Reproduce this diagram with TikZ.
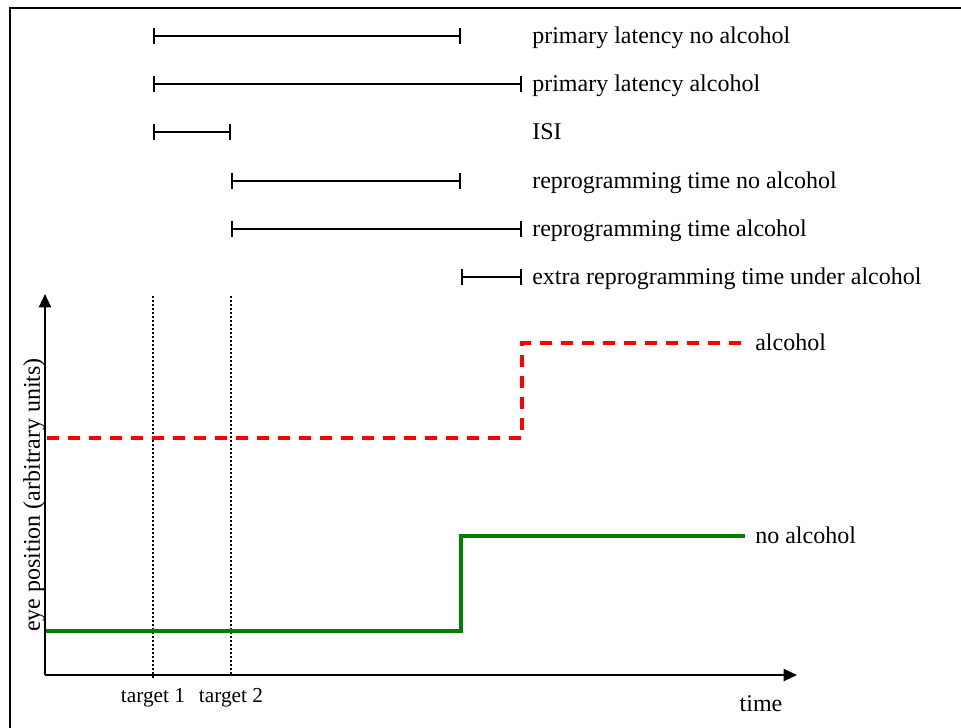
\documentclass[tikz,border=0pt]{standalone}
\usepackage{fontspec}
\setmainfont{Liberation Serif}
\usetikzlibrary{arrows.meta}
\begin{document}
\begin{tikzpicture}[x=0.75pt,y=-0.75pt,
  interval/.style={line width=1.5pt,{Bar[width=11.5pt,line width=1.5pt]}-{Bar[width=11.5pt,line width=1.5pt]}},
  lbl/.style={anchor=base west,inner sep=0pt,font=\fontsize{18}{20}\selectfont},
  tlbl/.style={anchor=base,inner sep=0pt,font=\fontsize{16}{18}\selectfont},
  axis/.style={line width=1.7pt,-{Triangle[length=10pt,width=9pt]}},
  marker/.style={line width=1.2pt,dash pattern=on 1.5pt off 1.5pt},
  alc/.style={line width=2.8pt,red,dash pattern=on 9pt off 6.75pt},
  noalc/.style={line width=2.8pt,green!50!black},
  frame/.style={line width=2.2pt}]
\useasboundingbox (0,0) rectangle (961,728);
\draw[frame] (10,728) -- (10,8) -- (961,8);

% interval end points
\coordinate (a1) at (153,36);  \coordinate (b1) at (461,36);
\coordinate (a2) at (153,84);  \coordinate (b2) at (522,84);
\coordinate (a3) at (153,132); \coordinate (b3) at (231,132);
\coordinate (a4) at (231,181); \coordinate (b4) at (461,181);
\coordinate (a5) at (231,229); \coordinate (b5) at (522,229);
\coordinate (a6) at (461,277); \coordinate (b6) at (522,277);
\draw[interval] (a1) -- (b1);
\draw[interval] (a2) -- (b2);
\draw[interval] (a3) -- (b3);
\draw[interval] (a4) -- (b4);
\draw[interval] (a5) -- (b5);
\draw[interval] (a6) -- (b6);
\node[lbl] (l1) at (532,43) {primary latency no alcohol};
\node[lbl] (l2) at (532,91) {primary latency alcohol};
\node[lbl] (l3) at (532,139) {ISI};
\node[lbl] (l4) at (532,188) {reprogramming time no alcohol};
\node[lbl] (l5) at (532,236) {reprogramming time alcohol};
\node[lbl] (l6) at (532,284) {extra reprogramming time under alcohol};

% axes
\coordinate (o) at (45,675);
\coordinate (ytip) at (45,294);
\coordinate (xtip) at (797,675);
\draw[axis] (o) -- (ytip);
\draw[axis] (o) -- (xtip);
\node[tlbl,font=\fontsize{18}{20}\selectfont] (time) at (761,711) {time};
\node[rotate=90,anchor=base,inner sep=0pt,font=\fontsize{18}{20}\selectfont] (ylab) at (40,495) {eye position (arbitrary units)};

% target markers
\coordinate (t1top) at (153,296); \coordinate (t1bot) at (153,679);
\coordinate (t2top) at (231,296); \coordinate (t2bot) at (231,676);
\draw[marker] (t1top) -- (t1bot);
\draw[marker] (t2top) -- (t2bot);
\node[tlbl] (t1) at (153,702) {target 1};
\node[tlbl] (t2) at (231,702) {target 2};

% traces
\coordinate (r0) at (47,438); \coordinate (r1) at (522,438);
\coordinate (r2) at (522,343); \coordinate (r3) at (745,343);
\draw[alc] (r0) -- (r1) -- (r2) -- (r3);
\coordinate (g0) at (46,631); \coordinate (g1) at (461,631);
\coordinate (g2) at (461,536); \coordinate (g3) at (745,536);
\draw[noalc] (g0) -- (g1) -- (g2) -- (g3);
\node[lbl] (alab) at (755,350) {alcohol};
\node[lbl] (nlab) at (755,543) {no alcohol};
\end{tikzpicture}
\end{document}
